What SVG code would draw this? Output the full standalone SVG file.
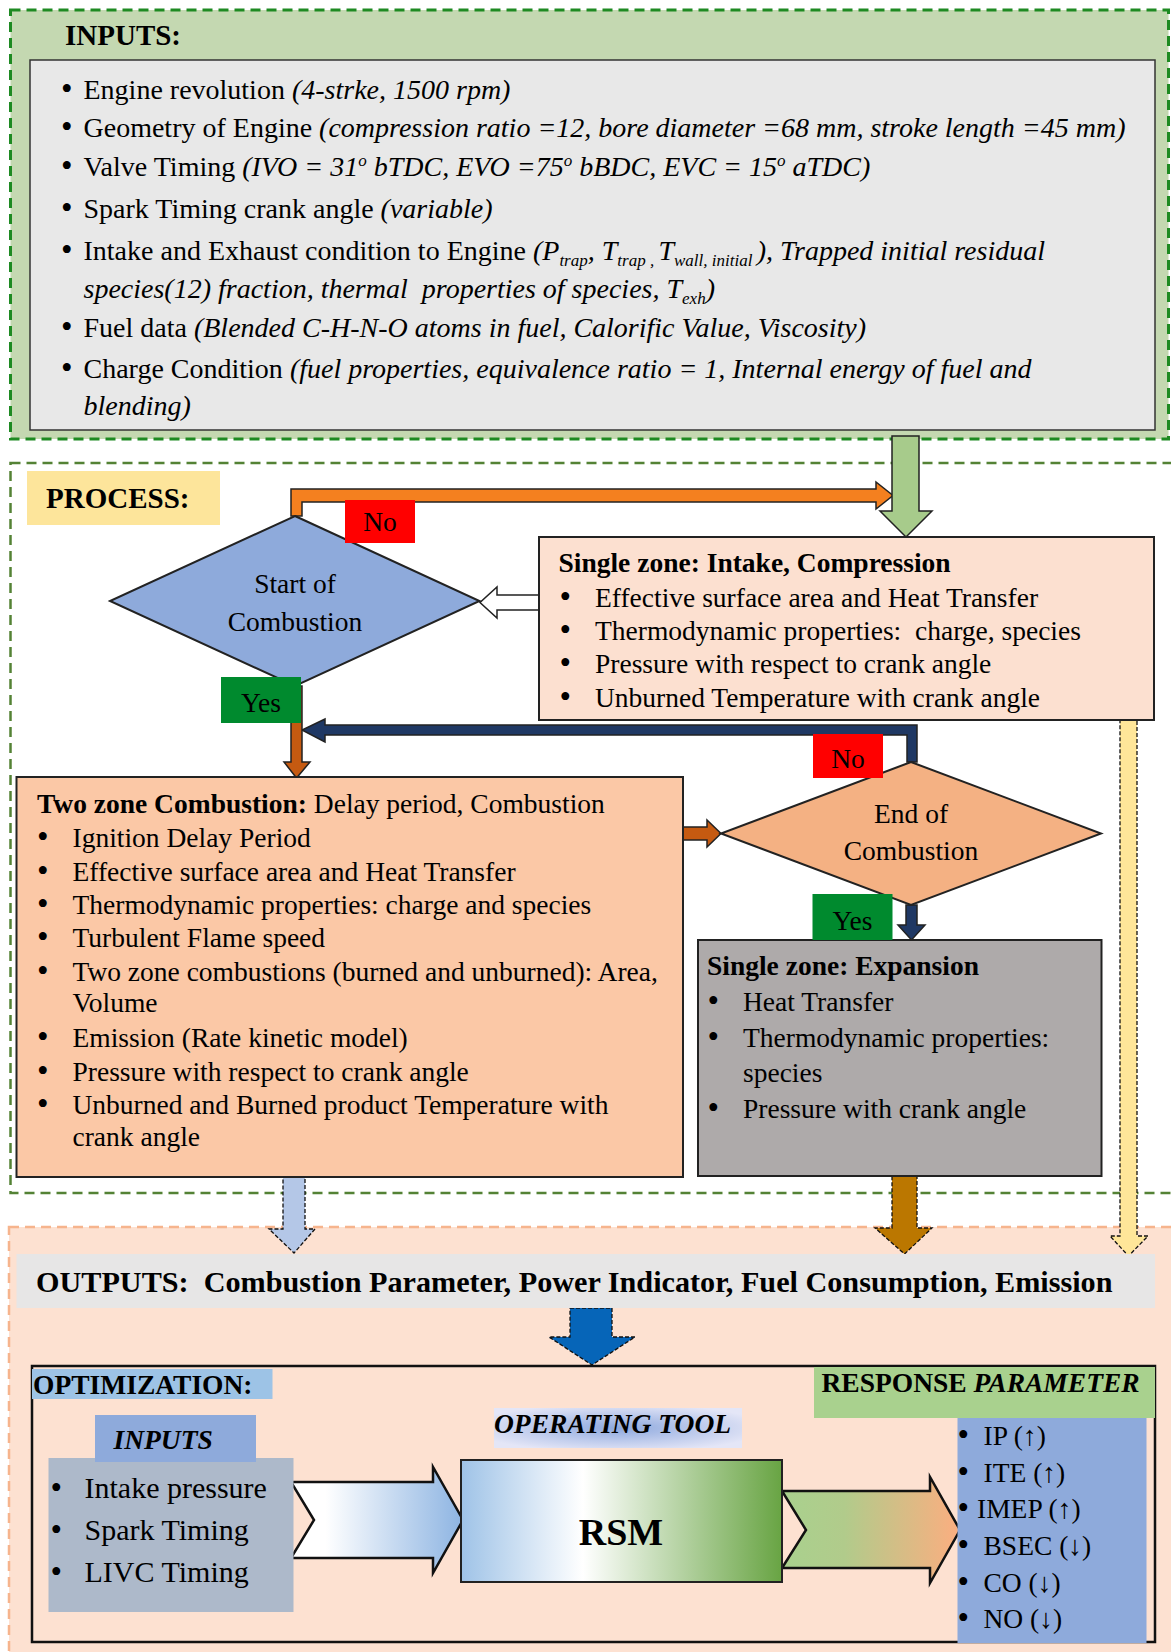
<svg xmlns="http://www.w3.org/2000/svg" width="1171" height="1652" viewBox="0 0 1171 1652">
<style>
text{font-family:"Liberation Serif","Times New Roman",serif;fill:#000}
.in{font-size:28px}
.pr{font-size:27.5px}
.bu{font-size:33px}
.b{font-weight:bold}
.i{font-style:italic}
.sub{font-size:17px}
.ol{stroke:#222;stroke-width:1.5}
.dash{stroke:#111;stroke-width:1.3;stroke-dasharray:4 2}
.node{stroke:#222;stroke-width:2}
.c{text-anchor:middle}
</style>
<defs>
<linearGradient id="gRsm" x1="0" y1="0" x2="1" y2="0">
<stop offset="0" stop-color="#9fc3e7"/><stop offset="0.38" stop-color="#ffffff"/><stop offset="1" stop-color="#68a443"/>
</linearGradient>
<linearGradient id="gCh1" x1="0" y1="0" x2="1" y2="0">
<stop offset="0" stop-color="#ffffff"/><stop offset="0.2" stop-color="#ffffff"/><stop offset="1" stop-color="#8db4e2"/>
</linearGradient>
<linearGradient id="gCh2" x1="0" y1="0" x2="1" y2="0">
<stop offset="0" stop-color="#a9d18e"/><stop offset="0.35" stop-color="#b1cb8b"/><stop offset="1" stop-color="#fcae80"/>
</linearGradient>
<radialGradient id="gOp" cx="0.5" cy="0.5" r="0.6">
<stop offset="0" stop-color="#8ea9de"/><stop offset="1" stop-color="#e4e6f7"/>
</radialGradient>
</defs>

<!-- regions -->
<g id="region-inputs">
<rect x="10.5" y="10" width="1158" height="429" fill="#c4d8b1" stroke="#1e8a22" stroke-width="3" stroke-dasharray="10 6"/>
<text class="b" x="65" y="45" font-size="29">INPUTS:</text>
</g>
<g id="region-process">
<rect x="10.5" y="463" width="1175" height="730" fill="#ffffff" stroke="#548235" stroke-width="2.5" stroke-dasharray="10 6"/>
<rect x="27" y="471" width="193" height="54" fill="#fde59b"/>
<text class="b" x="46" y="508" font-size="29">PROCESS:</text>
</g>
<g id="region-outputs">
<rect x="9" y="1227" width="1180" height="440" fill="#fde1d1" stroke="#f6b48d" stroke-width="2.5" stroke-dasharray="10 6"/>
</g>

<!-- connectors -->
<g id="connectors">
<polygon points="291,516 291,489 876,489 876,482 893,495.5 876,509 876,502 302,502 302,516" fill="#f4801f" class="ol"/>
<polygon points="892,436 919,436 919,511 932,511 906,537 880,511 892,511" fill="#a7cb8b" class="ol"/>
<polygon points="539,595 497,595 497,587 480,602.5 497,618 497,610 539,610" fill="#ffffff" class="ol"/>
<polygon points="917,762 917,725 325,725 325,719 302,730 325,742 325,735 907,735 907,762" fill="#1f3864" class="ol"/>
<polygon points="291,686 302,686 302,762 310,762 296.5,778 284,762 291,762" fill="#c55a11" class="ol"/>
<polygon points="683,827 707,827 707,820 721,833.5 707,847 707,840 683,840" fill="#c55a11" class="ol"/>
<polygon points="906,905 917,905 917,925 925,925 911.5,940 898,925 906,925" fill="#1f3864" class="ol"/>
<polygon points="1120,720 1137,720 1137,1236 1148,1236 1128.5,1256 1110,1236 1120,1236" fill="#ffe699" class="dash"/>
<polygon points="283,1177 305,1177 305,1229 315,1229 294,1253 269,1229 283,1229" fill="#b4c7e7" class="dash"/>
<polygon points="892,1176 917,1176 917,1228 932,1228 904.5,1254 875,1228 892,1228" fill="#bb7700" class="dash"/>
<polygon points="570,1308 612,1308 612,1337 635,1337 592,1365 549,1337 570,1337" fill="#0665b8" class="dash"/>
<polygon points="291,1482 433,1482 433,1467 463,1520 433,1573 433,1558 291,1558 314,1520" fill="url(#gCh1)" stroke="#111" stroke-width="2.5"/>
<polygon points="782,1491 930,1491 930,1477 960,1530 930,1583 930,1568 782,1568 806,1530" fill="url(#gCh2)" stroke="#111" stroke-width="2.5"/>
</g>

<!-- input list -->
<g id="inputs-list">
<rect x="30" y="60" width="1125" height="370" fill="#e8e8e8" stroke="#333" stroke-width="1.5"/>
<text class="bu" x="61" y="100">•</text><text class="in" x="83.5" y="99">Engine revolution <tspan class="i">(4-strke, 1500 rpm)</tspan></text>
<text class="bu" x="61" y="138">•</text><text class="in" x="83.5" y="137">Geometry of Engine <tspan class="i">(compression ratio =12, bore diameter =68 mm, stroke length =45 mm)</tspan></text>
<text class="bu" x="61" y="177">•</text><text class="in" x="83.5" y="176">Valve Timing <tspan class="i">(IVO = 31<tspan class="sub" dy="-10">o</tspan><tspan dy="10"> bTDC, EVO =75</tspan><tspan class="sub" dy="-10">o</tspan><tspan dy="10"> bBDC, EVC = 15</tspan><tspan class="sub" dy="-10">o</tspan><tspan dy="10"> aTDC)</tspan></tspan></text>
<text class="bu" x="61" y="219">•</text><text class="in" x="83.5" y="218">Spark Timing crank angle <tspan class="i">(variable)</tspan></text>
<text class="bu" x="61" y="261">•</text><text class="in" x="83.5" y="260">Intake and Exhaust condition to Engine <tspan class="i">(P<tspan class="sub" dy="6">trap</tspan><tspan dy="-6">, T</tspan><tspan class="sub" dy="6">trap , </tspan><tspan dy="-6">T</tspan><tspan class="sub" dy="6">wall, initial </tspan><tspan dy="-6">), Trapped initial residual</tspan></tspan></text>
<text class="in i" x="83.5" y="298" xml:space="preserve">species(12) fraction, thermal  properties of species, T<tspan class="sub" dy="6">exh</tspan><tspan dy="-6">)</tspan></text>
<text class="bu" x="61" y="338">•</text><text class="in" x="83.5" y="337">Fuel data <tspan class="i">(Blended C-H-N-O atoms in fuel, Calorific Value, Viscosity)</tspan></text>
<text class="bu" x="61" y="379">•</text><text class="in" x="83.5" y="378">Charge Condition <tspan class="i">(fuel properties, equivalence ratio = 1, Internal energy of fuel and</tspan></text>
<text class="in i" x="83.5" y="415">blending)</text>
</g>

<g id="node-start">
<polygon points="295,516 479.5,601 295,686 110,601" fill="#8eaadb" class="node"/>
<text class="pr c" x="295" y="593">Start of</text>
<text class="pr c" x="295" y="631">Combustion</text>
</g>

<g id="node-single-intake">
<rect x="539" y="537" width="615" height="183" fill="#fce0d0" class="node"/>
<text class="pr b" x="558.5" y="572">Single zone: Intake, Compression</text>
<text class="bu" x="559.5" y="608">•</text><text class="pr" x="595" y="607">Effective surface area and Heat Transfer</text>
<text class="bu" x="559.5" y="641">•</text><text class="pr" x="595" y="640" xml:space="preserve">Thermodynamic properties:  charge, species</text>
<text class="bu" x="559.5" y="674">•</text><text class="pr" x="595" y="673">Pressure with respect to crank angle</text>
<text class="bu" x="559.5" y="708">•</text><text class="pr" x="595" y="707">Unburned Temperature with crank angle</text>
</g>

<g id="node-two-zone">
<rect x="16.5" y="777" width="666.5" height="400" fill="#fbc8a6" class="node"/>
<text class="pr" x="37" y="813"><tspan class="b">Two zone Combustion:</tspan> Delay period, Combustion</text>
<text class="bu" x="37" y="848">•</text><text class="pr" x="72.5" y="847">Ignition Delay Period</text>
<text class="bu" x="37" y="882">•</text><text class="pr" x="72.5" y="881">Effective surface area and Heat Transfer</text>
<text class="bu" x="37" y="915">•</text><text class="pr" x="72.5" y="914">Thermodynamic properties: charge and species</text>
<text class="bu" x="37" y="948">•</text><text class="pr" x="72.5" y="947">Turbulent Flame speed</text>
<text class="bu" x="37" y="982">•</text><text class="pr" x="72.5" y="981">Two zone combustions (burned and unburned): Area,</text>
<text class="pr" x="72.5" y="1012">Volume</text>
<text class="bu" x="37" y="1048">•</text><text class="pr" x="72.5" y="1047">Emission (Rate kinetic model)</text>
<text class="bu" x="37" y="1082">•</text><text class="pr" x="72.5" y="1081">Pressure with respect to crank angle</text>
<text class="bu" x="37" y="1115">•</text><text class="pr" x="72.5" y="1114">Unburned and Burned product Temperature with</text>
<text class="pr" x="72.5" y="1146">crank angle</text>
</g>

<g id="node-end">
<polygon points="911,762 1101,833.5 911,905 721,833.5" fill="#f4b183" class="node"/>
<text class="pr c" x="911" y="823">End of</text>
<text class="pr c" x="911" y="860">Combustion</text>
</g>

<g id="node-expansion">
<rect x="698" y="940" width="403.5" height="236" fill="#aeaaaa" class="node"/>
<text class="pr b" x="707" y="975">Single zone: Expansion</text>
<text class="bu" x="707.5" y="1012">•</text><text class="pr" x="743" y="1011">Heat Transfer</text>
<text class="bu" x="707.5" y="1048">•</text><text class="pr" x="743" y="1047">Thermodynamic properties:</text>
<text class="pr" x="743" y="1082">species</text>
<text class="bu" x="707.5" y="1119">•</text><text class="pr" x="743" y="1118">Pressure with crank angle</text>
</g>

<g id="labels">
<rect x="345" y="500" width="70" height="43" fill="#ff0000"/>
<text class="pr c" x="380" y="531">No</text>
<rect x="221" y="677" width="80" height="46" fill="#008a2e"/>
<text class="pr c" x="261" y="712">Yes</text>
<rect x="813" y="734" width="70" height="44" fill="#ff0000"/>
<text class="pr c" x="848" y="768">No</text>
<rect x="812.5" y="894" width="80" height="46" fill="#008a2e"/>
<text class="pr c" x="852.5" y="930">Yes</text>
</g>

<g id="node-outputs">
<rect x="16.5" y="1254" width="1138.5" height="54" fill="#e7e6e6"/>
<text class="b" x="36" y="1292" font-size="30.2" xml:space="preserve">OUTPUTS:  Combustion Parameter, Power Indicator, Fuel Consumption, Emission</text>
</g>

<g id="node-optimization">
<rect x="32" y="1366" width="1123" height="276" fill="none" stroke="#111" stroke-width="2.5"/>
<rect x="32" y="1369" width="240.5" height="30" fill="#9dc3e6"/>
<text class="pr b" x="33" y="1394">OPTIMIZATION:</text>
</g>

<g id="node-response">
<rect x="814" y="1367" width="341" height="51" fill="#a9d18e"/>
<text class="pr b" x="821.5" y="1392">RESPONSE <tspan class="i">PARAMETER</tspan></text>
<rect x="957.5" y="1418" width="189" height="225" fill="#8eaadb"/>
<text class="bu" x="957.5" y="1446">•</text><text class="pr" x="983.5" y="1445">IP (↑)</text>
<text class="bu" x="957.5" y="1483">•</text><text class="pr" x="983.5" y="1482">ITE (↑)</text>
<text class="bu" x="957.5" y="1519">•</text><text class="pr" x="977" y="1518">IMEP (↑)</text>
<text class="bu" x="957.5" y="1556">•</text><text class="pr" x="983.5" y="1555">BSEC (↓)</text>
<text class="bu" x="957.5" y="1593">•</text><text class="pr" x="983.5" y="1592">CO (↓)</text>
<text class="bu" x="957.5" y="1629">•</text><text class="pr" x="983.5" y="1628">NO (↓)</text>
</g>

<g id="node-opt-inputs">
<rect x="48.5" y="1458" width="245" height="154" fill="#adb9ca"/>
<rect x="95" y="1415" width="161" height="47" fill="#8eaadb"/>
<text class="pr b i" x="113.5" y="1449">INPUTS</text>
<text class="bu" x="50.5" y="1499">•</text><text x="84.5" y="1498" font-size="30">Intake pressure</text>
<text class="bu" x="50.5" y="1541">•</text><text x="84.5" y="1540" font-size="30">Spark Timing</text>
<text class="bu" x="50.5" y="1583">•</text><text x="84.5" y="1582" font-size="30">LIVC Timing</text>
</g>

<g id="node-operating-tool">
<rect x="494" y="1408" width="248" height="40" fill="url(#gOp)"/>
<text class="pr b i" x="494" y="1433">OPERATING TOOL</text>
</g>

<g id="node-rsm">
<rect x="461" y="1460" width="321" height="122" fill="url(#gRsm)" stroke="#222" stroke-width="2"/>
<text class="b c" x="621" y="1545" font-size="38">RSM</text>
</g>
</svg>
